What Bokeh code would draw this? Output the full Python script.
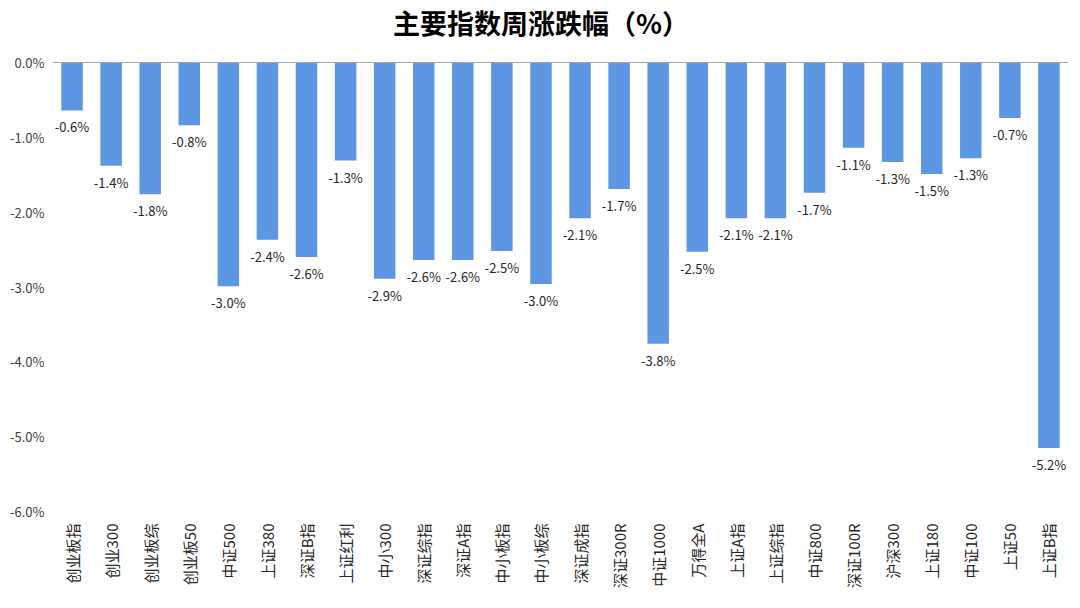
import math
from bokeh.plotting import figure
from bokeh.models import ColumnDataSource, FixedTicker, PrintfTickFormatter, Span
from bokeh.core.properties import value
from bokeh.embed import file_html
from bokeh.resources import INLINE

categories = ["创业板指", "创业300", "创业板综", "创业板50", "中证500", "上证380", "深证B指",
              "上证红利", "中小300", "深证综指", "深证A指", "中小板指", "中小板综", "深证成指",
              "深证300R", "中证1000", "万得全A", "上证A指", "上证综指", "中证800", "深证100R",
              "沪深300", "上证180", "中证100", "上证50", "上证B指"]
changes = [-0.64, -1.38, -1.76, -0.84, -2.99, -2.37, -2.60, -1.31, -2.89, -2.64, -2.64,
           -2.52, -2.96, -2.08, -1.69, -3.76, -2.53, -2.08, -2.08, -1.74, -1.14, -1.33,
           -1.49, -1.28, -0.74, -5.15]
y_ticks = [0, -1, -2, -3, -4, -5, -6]
title_text = "主要指数周涨跌幅（%）"

labels = ["%.1f%%" % v for v in changes]
src = ColumnDataSource(dict(cat=categories, val=changes, lab=labels))

FONT = "Noto Sans CJK SC"

# frame spans the full height above the x labels; the band above 0 holds the title
frame_h = 511
top_px = 62
y_min = min(y_ticks)
y_top = top_px * (-y_min) / (frame_h - top_px)

p = figure(x_range=categories, y_range=(y_min, y_top), width=1072, height=600,
           output_backend="svg", toolbar_location=None,
           min_border_left=52, min_border_right=4, min_border_top=0, min_border_bottom=89)

p.outline_line_color = None
p.xgrid.grid_line_color = None
p.ygrid.grid_line_color = None
p.background_fill_color = "white"
p.border_fill_color = "white"

p.vbar(x="cat", top="val", bottom=0, width=0.55, source=src,
       fill_color="#5D96E3", line_color=None)

p.text(x="cat", y="val", text="lab", source=src, text_align="center",
       text_baseline="top", y_offset=7, text_font=value(FONT),
       text_font_size="13px", text_color="#262626")

# title, anchored above the zero line at the middle of the page
title_anchor = categories[len(categories) // 2 - 1]
p.text(x=[title_anchor], y=[0], text=[title_text], text_align="center",
       text_baseline="middle", y_offset=-40, text_font=value(FONT),
       text_font_size="27px", text_font_style="bold", text_color="#000000")

zero = Span(location=0, dimension="width", line_color="#A6A6A6", line_width=1)
p.add_layout(zero)

p.yaxis.ticker = FixedTicker(ticks=y_ticks)
p.yaxis.formatter = PrintfTickFormatter(format="%.1f%%")
p.yaxis.axis_line_color = None
p.yaxis.major_tick_line_color = None
p.yaxis.minor_tick_line_color = None
p.yaxis.major_tick_out = 0
p.yaxis.minor_tick_out = 0
p.yaxis.major_label_standoff = 8
p.yaxis.major_label_text_font = FONT
p.yaxis.major_label_text_font_size = "13px"
p.yaxis.major_label_text_color = "#404040"

p.xaxis.axis_line_color = None
p.xaxis.major_tick_line_color = None
p.xaxis.major_tick_out = 0
p.xaxis.major_label_orientation = math.pi / 2
p.xaxis.major_label_standoff = 12
p.xaxis.major_label_text_font = FONT
p.xaxis.major_label_text_font_size = "15px"
p.xaxis.major_label_text_color = "#262626"

open("out.html", "w").write(file_html(p, INLINE))
